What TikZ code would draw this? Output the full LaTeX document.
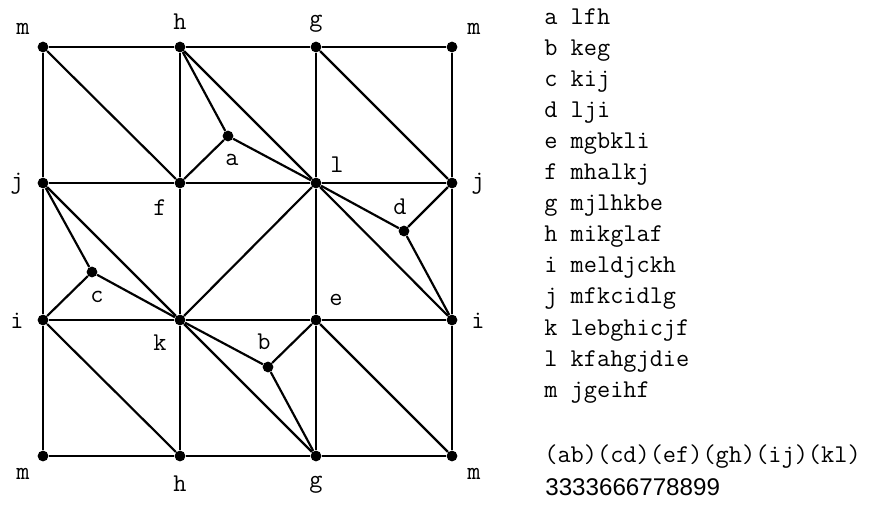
\documentclass[tikz,border=0pt]{standalone}
\usepackage{fontspec}
\newfontfamily\digitfont{Liberation Sans}
\usepackage{tikz}

\newcommand{\labfont}{\fontsize{14.2pt}{17pt}\selectfont\ttfamily}

\begin{document}
\begin{tikzpicture}[x=0.0195cm,y=-0.0195cm,
    vtx/.style={circle,fill=black,inner sep=0pt,minimum size=0.21cm},
    lbl/.style={font=\labfont,inner sep=0pt},
    row/.style={font=\labfont,inner sep=0pt,anchor=base west},
    edge/.style={line width=1.2pt}]
    \useasboundingbox (0,0) rectangle (878,506);
    % grid vertices
    \node[vtx] (m)  at (43,47)   {};
    \node[vtx] (h)  at (180,47)  {};
    \node[vtx] (g)  at (316,47)  {};
    \node[vtx] (m2) at (452,47)  {};
    \node[vtx] (j)  at (43,183)  {};
    \node[vtx] (f)  at (180,183) {};
    \node[vtx] (l)  at (316,183) {};
    \node[vtx] (j2) at (452,183) {};
    \node[vtx] (i)  at (43,320)  {};
    \node[vtx] (k)  at (180,320) {};
    \node[vtx] (e)  at (316,320) {};
    \node[vtx] (i2) at (452,320) {};
    \node[vtx] (m3) at (43,456)  {};
    \node[vtx] (h2) at (180,456) {};
    \node[vtx] (g2) at (316,456) {};
    \node[vtx] (m4) at (452,456) {};
    % inner vertices
    \node[vtx] (a) at (228,136) {};
    \node[vtx] (d) at (404,231) {};
    \node[vtx] (c) at (92,272)  {};
    \node[vtx] (b) at (268,367) {};
    % grid lines
    \draw[edge] (m)--(h)--(g)--(m2); \draw[edge] (j)--(f)--(l)--(j2);
    \draw[edge] (i)--(k)--(e)--(i2); \draw[edge] (m3)--(h2)--(g2)--(m4);
    \draw[edge] (m)--(j)--(i)--(m3); \draw[edge] (h)--(f)--(k)--(h2);
    \draw[edge] (g)--(l)--(e)--(g2); \draw[edge] (m2)--(j2)--(i2)--(m4);
    % diagonals
    \draw[edge] (m)--(f); \draw[edge] (h)--(l); \draw[edge] (g)--(j2);
    \draw[edge] (l)--(k); \draw[edge] (l)--(i2); \draw[edge] (j)--(k);
    \draw[edge] (i)--(h2); \draw[edge] (k)--(g2); \draw[edge] (e)--(m4);
    \draw[edge] (h)--(a)--(f); \draw[edge] (a)--(l);
    \draw[edge] (l)--(d)--(j2); \draw[edge] (d)--(i2);
    \draw[edge] (j)--(c)--(i); \draw[edge] (c)--(k);
    \draw[edge] (k)--(b)--(e); \draw[edge] (b)--(g2);
    % vertex labels
    \node[lbl] (lm)  at (23,29)   {m};
    \node[lbl] (lh)  at (180,22)  {h};
    \node[lbl] (lg)  at (316,24)  {g};
    \node[lbl] (lm2) at (474,29)  {m};
    \node[lbl] (lj)  at (17,184)  {j};
    \node[lbl] (lf)  at (160,208) {f};
    \node[lbl] (ll)  at (337,165) {l};
    \node[lbl] (lj2) at (478,184) {j};
    \node[lbl] (li)  at (17,321)  {i};
    \node[lbl] (lk)  at (160,343) {k};
    \node[lbl] (le)  at (336,300) {e};
    \node[lbl] (li2) at (478,321) {i};
    \node[lbl] (lm3) at (23,474)  {m};
    \node[lbl] (lh2) at (180,484) {h};
    \node[lbl] (lg2) at (316,485) {g};
    \node[lbl] (lm4) at (474,474) {m};
    \node[lbl] (la)  at (232,160) {a};
    \node[lbl] (ld)  at (400,207) {d};
    \node[lbl] (lc)  at (97,297)  {c};
    \node[lbl] (lb)  at (264,342) {b};
    % adjacency list
    \foreach \t [count=\n from 0] in {a lfh,b keg,c kij,d lji,e mgbkli,
        f mhalkj,g mjlhkbe,h mikglaf,i meldjckh,j mfkcidlg,k lebghicjf,
        l kfahgjdie,m jgeihf}
      \node[row] (r\n) at (544,{24+31.1*\n}) {\t};
    \node[row] (pairs) at (544,462) {(ab)(cd)(ef)(gh)(ij)(kl)};
    \node[row,font=\digitfont\fontsize{13.4pt}{16pt}\selectfont] (degs)
      at (545,495) {3333666778899};
\end{tikzpicture}
\end{document}
